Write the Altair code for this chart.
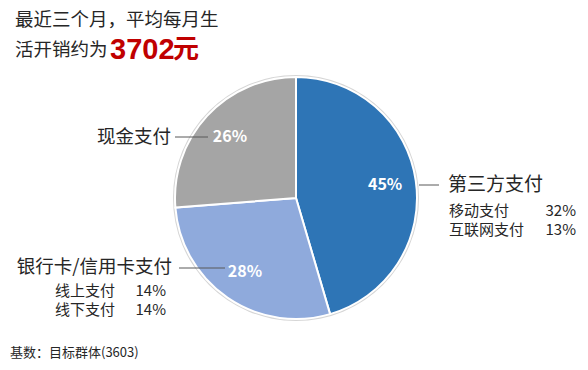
import altair as alt
import pandas as pd

categories = ["第三方支付", "银行卡/信用卡支付", "现金支付"]
shares = [45, 28, 26]
colors = ["#2E75B6", "#8FAADC", "#A5A5A5"]
sub_third = [("移动支付", "32%"), ("互联网支付", "13%")]
sub_bank = [("线上支付", "14%"), ("线下支付", "14%")]
title_line1 = "最近三个月，平均每月生"
title_line2 = "活开销约为"
title_amount = "3702"
title_unit = "元"
footer = "基数：目标群体(3603)"

df = pd.DataFrame({
    "cat": categories,
    "share": shares,
    "order": list(range(len(categories))),
    "label": [f"{v}%" for v in shares],
})

CJK = "Noto Sans CJK SC"
CX, CY, R = 288, 190, 121

bg = alt.Chart(pd.DataFrame({"a": [1]})).mark_arc(
    theta=0, theta2=6.2832, radius=R + 2, color="#D6D6D6"
).encode(x=alt.value(CX), y=alt.value(CY))

pie = alt.Chart(df).mark_arc(radius=R, stroke="white", strokeWidth=2).encode(
    theta=alt.Theta("share:Q", stack=True),
    order=alt.Order("order:Q"),
    color=alt.Color("cat:N", scale=alt.Scale(domain=categories, range=colors), legend=None),
    x=alt.value(CX), y=alt.value(CY),
)

inner = alt.Chart(df).mark_text(
    radius=90, font=CJK, fontSize=16, fontWeight="bold", color="white"
).encode(
    theta=alt.Theta("share:Q", stack=True),
    order=alt.Order("order:Q"),
    text="label:N",
    x=alt.value(CX), y=alt.value(CY),
)


def txt(s, x, y, size, align="left", weight="normal", color="#262626", font=CJK):
    return alt.Chart(pd.DataFrame({"t": [s]})).mark_text(
        align=align, baseline="middle", fontSize=size, fontWeight=weight, color=color, font=font
    ).encode(text="t:N", x=alt.value(x), y=alt.value(y))


def hline(x1, x2, y):
    return alt.Chart(pd.DataFrame({"a": [1]})).mark_rule(color="#595959", strokeWidth=1).encode(
        x=alt.value(x1), x2=alt.value(x2), y=alt.value(y)
    )


layers = [bg, pie, inner]
# title
layers.append(txt(title_line1, 7, 12, 18.5))
layers.append(txt(title_line2, 7, 42, 18.5))
layers.append(txt(title_amount, 102, 42, 29, weight="bold", color="#C00000", font="Liberation Sans"))
layers.append(txt(title_unit, 165, 42, 26, weight="bold", color="#C00000"))
# third-party
layers.append(hline(411, 431, 177))
layers.append(txt(categories[0], 440, 177, 19))
layers.append(txt(sub_third[0][0], 441, 203, 15))
layers.append(txt(sub_third[0][1], 568, 203, 15, align="right"))
layers.append(txt(sub_third[1][0], 441, 222, 15))
layers.append(txt(sub_third[1][1], 568, 222, 15, align="right"))
# cash
layers.append(txt(categories[2], 163, 129, 18.5, align="right"))
layers.append(hline(167, 200, 129))
# bank
layers.append(txt(categories[1], 164, 259, 18.5, align="right"))
layers.append(hline(171, 217, 260))
layers.append(txt(sub_bank[0][0], 47, 283, 15))
layers.append(txt(sub_bank[0][1], 158, 283, 15, align="right"))
layers.append(txt(sub_bank[1][0], 47, 302, 15))
layers.append(txt(sub_bank[1][1], 158, 302, 15, align="right"))
# footer
layers.append(txt(footer, 2, 345, 13))

chart = alt.layer(*layers).properties(
    width=572, height=354, padding=0, autosize=alt.AutoSizeParams(type="none"), background="white"
).configure_view(stroke=None)

chart.save("out.html", embed_options={"renderer": "svg", "actions": False})
